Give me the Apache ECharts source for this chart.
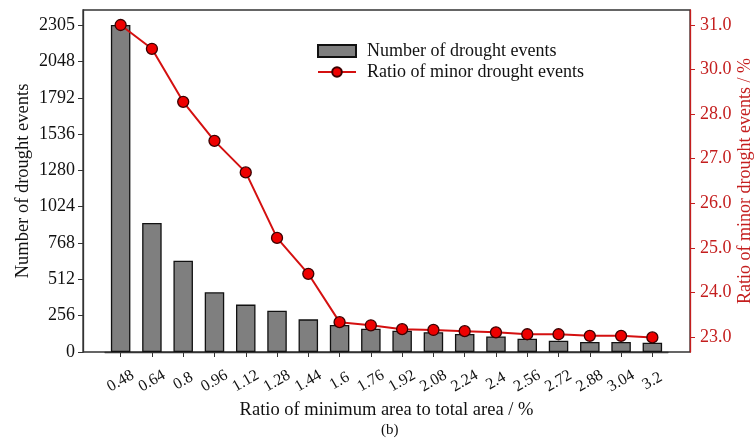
<!DOCTYPE html>
<html>
<head>
<meta charset="utf-8">
<script src="https://cdn.jsdelivr.net/npm/echarts@6/dist/echarts.min.js"></script>
<style>html,body{margin:0;padding:0;background:#fff}#c{width:754px;height:439px}</style>
</head>
<body>
<div id="c"></div>
<script>
var categories = ['0.48','0.64','0.8','0.96','1.12','1.28','1.44','1.6','1.76','1.92','2.08','2.24','2.4','2.56','2.72','2.88','3.04','3.2'];
var droughtCounts = [2305, 909, 644, 421, 334, 291, 230, 190, 164, 150, 139, 127, 110, 94, 80, 70, 70, 66];
var minorRatio = [31.0, 30.39, 29.03, 28.03, 27.22, 25.54, 24.62, 23.38, 23.30, 23.20, 23.18, 23.15, 23.12, 23.07, 23.07, 23.03, 23.03, 22.99];
var leftTicks = [0, 256, 512, 768, 1024, 1280, 1536, 1792, 2048, 2305];
var rightTickLabels = ['23.0','24.0','25.0','26.0','27.0','28.0','30.0','31.0'];

var FONT = 'Liberation Serif';
var RED = '#c41e1e';
var rightMin = 23, rightMax = 31;
var rightStep = (rightMax - rightMin) / (rightTickLabels.length - 1);
var rightTickPos = rightTickLabels.map(function (l, k) { return rightMin + k * rightStep; });

var chart = echarts.init(document.getElementById('c'), null, {renderer: 'canvas'});
chart.setOption({
  animation: false,
  backgroundColor: '#fff',
  textStyle: {fontFamily: FONT},
  title: {
    text: '(b)', left: 376, top: 418,
    textStyle: {fontFamily: FONT, fontSize: 15, fontWeight: 'normal', color: '#111'}
  },
  grid: [
    {left: 105, top: 10, width: 563, height: 342, show: false, outerBoundsMode: 'none', containLabel: false},
    {left: 83, top: 10, width: 607, height: 342, show: true, borderColor: '#333', borderWidth: 1.3, backgroundColor: 'transparent', outerBoundsMode: 'none', containLabel: false}
  ],
  legend: {
    orient: 'vertical', left: 312, top: 37, itemWidth: 38, itemHeight: 12, itemGap: 3,
    textStyle: {fontFamily: FONT, fontSize: 18, color: '#111', padding: [0, 0, 0, 6]},
    data: [
      {name: 'Number of drought events', icon: 'rect'},
      {name: 'Ratio of minor drought events'}
    ]
  },
  xAxis: {
    type: 'category', gridIndex: 0, data: categories, boundaryGap: true,
    name: 'Ratio of minimum area to total area / %', nameLocation: 'middle', nameGap: 49,
    nameMoveOverlap: false,
    nameTextStyle: {fontFamily: FONT, fontSize: 18.5, color: '#111'},
    axisLine: {lineStyle: {color: '#333', width: 1.3}},
    axisTick: {show: true, length: 5, alignWithLabel: true, interval: 0, lineStyle: {color: '#333'}},
    axisLabel: {
      interval: 0, rotate: 30, align: 'center', margin: 29,
      fontFamily: FONT, fontSize: 16, color: '#111'
    },
    splitLine: {show: false}
  },
  yAxis: [
    {
      type: 'value', gridIndex: 0, min: 0, max: 2410.7, position: 'left', offset: 22,
      name: 'Number of drought events', nameLocation: 'middle', nameGap: 50, nameMoveOverlap: false,
      nameTextStyle: {fontFamily: FONT, fontSize: 18.5, color: '#111'},
      axisLine: {show: true, lineStyle: {color: '#333', width: 1.3}},
      axisTick: {show: true, length: 5, customValues: leftTicks, lineStyle: {color: '#333'}},
      axisLabel: {customValues: leftTicks, fontFamily: FONT, fontSize: 18, color: '#111', margin: 8,
        formatter: function (v) { return String(v); }},
      splitLine: {show: false}
    },
    {
      type: 'value', gridIndex: 0, min: 22.615, max: 31.385, position: 'right', offset: 22,
      name: 'Ratio of minor drought events / %', nameLocation: 'middle', nameGap: 46, nameRotate: 90,
      nameMoveOverlap: false,
      nameTextStyle: {fontFamily: FONT, fontSize: 18, color: RED},
      axisLine: {show: true, lineStyle: {color: RED, width: 1.3}},
      axisTick: {show: true, length: 5, customValues: rightTickPos, lineStyle: {color: RED}},
      axisLabel: {
        customValues: rightTickPos, fontFamily: FONT, fontSize: 18, color: RED, margin: 10,
        formatter: function (v) { return rightTickLabels[Math.round((v - rightMin) / rightStep)]; }
      },
      splitLine: {show: false}
    }
  ],
  series: [
    {
      name: 'Number of drought events', type: 'bar', xAxisIndex: 0, yAxisIndex: 0, barWidth: 19.5,
      itemStyle: {color: '#7f7f7f', borderColor: '#111', borderWidth: 1.3},
      data: droughtCounts
    },
    {
      name: 'Ratio of minor drought events', type: 'line', xAxisIndex: 0, yAxisIndex: 1,
      symbol: 'circle', symbolSize: 11,
      lineStyle: {color: '#d41010', width: 2},
      itemStyle: {color: '#ee0000', borderColor: '#3a0000', borderWidth: 1.3},
      data: minorRatio,
      z: 3
    }
  ]
});
</script>
</body>
</html>
